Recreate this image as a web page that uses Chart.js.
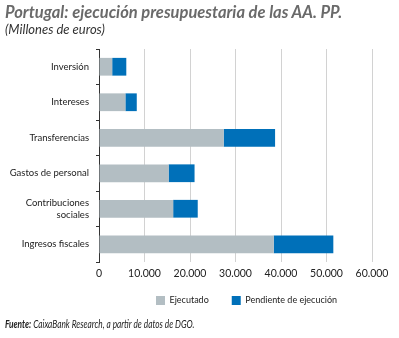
<!DOCTYPE html>
<html>
<head>
<meta charset="utf-8">
<script src="https://cdn.jsdelivr.net/npm/chart.js@4.4.0/dist/chart.umd.min.js"></script>
<style>
  body { margin: 0; background: #fff; width: 399px; height: 338px; overflow: hidden; position: relative; font-family: Lato, "Noto Sans", sans-serif; }
  #title { position: absolute; left: 5px; top: 2px; font-size: 16.5px; font-weight: bold; font-style: italic; color: #6a6a6a; white-space: nowrap; z-index: 2; }
  #subtitle { position: absolute; left: 5px; top: 21px; font-size: 13px; font-style: italic; color: #333; z-index: 2; }
  #source { position: absolute; left: 5px; top: 318px; font-size: 10.5px; font-style: italic; color: #222; white-space: nowrap; z-index: 2;
            transform: scaleX(0.79); transform-origin: left center; }
  #wrap { position: absolute; left: 0; top: 0; width: 399px; height: 319px; }
</style>
</head>
<body>
<div id="title">Portugal: ejecución presupuestaria de las AA. PP.</div>
<div id="subtitle">(Millones de euros)</div>
<div id="wrap"><canvas id="chart"></canvas></div>
<div id="source"><b>Fuente:</b> CaixaBank Research, a partir de datos de DGO.</div>
<script>
// ─── DATA ──────────────────────────────────────────────
const categories = [
  'Inversión',
  'Intereses',
  'Transferencias',
  'Gastos de personal',
  ['Contribuciones', 'sociales'],
  'Ingresos fiscales'
];
const ejecutado = [2900, 5800, 27400, 15300, 16300, 38400];
const pendiente = [3100, 2500, 11300, 5700, 5400, 13100];
const xTicks = [0, 10000, 20000, 30000, 40000, 50000, 60000];

// Format 10000 → "10.000"
const fmt = (v) => v.toString().replace(/\B(?=(\d{3})+(?!\d))/g, '.');

// Move legend to its spot under the axis
const legendPlace = {
  id: 'legendPlace',
  afterLayout(chart) {
    const lg = chart.legend;
    lg.top = 273;
    lg.left = 133;
    lg.right = 399;
  }
};

const chart = new Chart(document.getElementById('chart'), {
  type: 'bar',
  data: {
    labels: categories,
    datasets: [
      {
        label: 'Ejecutado',
        data: ejecutado,
        backgroundColor: '#b3bec3',
        barPercentage: 0.5,
        categoryPercentage: 1
      },
      {
        label: 'Pendiente de ejecución',
        data: pendiente,
        backgroundColor: '#0070b9',
        barPercentage: 0.5,
        categoryPercentage: 1
      }
    ]
  },
  plugins: [legendPlace],
  options: {
    indexAxis: 'y',
    responsive: true,
    maintainAspectRatio: false,
    animation: false,
    layout: { padding: { top: 49, right: 27, left: 0, bottom: 0 } },
    plugins: {
      tooltip: { enabled: false },
      legend: {
        position: 'bottom',
        align: 'start',
        labels: {
          boxWidth: 9,
          boxHeight: 9,
          padding: 23,
          color: '#222',
          font: { family: 'Lato', size: 9 }
        }
      }
    },
    scales: {
      x: {
        stacked: true,
        min: 0,
        max: 60000,
        afterBuildTicks: (scale) => { scale.ticks = xTicks.map(v => ({ value: v })); },
        afterFit: (scale) => { scale.height = 15; },
        grid: { color: '#d2d2d2', drawTicks: false },
        border: { display: false },
        ticks: {
          padding: 5,
          color: '#222',
          font: { family: 'Lato', size: 10.5 },
          callback: (v) => fmt(v)
        }
      },
      y: {
        stacked: true,
        afterFit: (scale) => { scale.width = 99; },
        grid: { drawOnChartArea: false, tickLength: 3, color: '#333' },
        border: { color: '#333', width: 1 },
        ticks: {
          padding: 7,
          color: '#222',
          font: { family: 'Lato', size: 9.5 }
        }
      }
    }
  }
});
</script>
</body>
</html>
